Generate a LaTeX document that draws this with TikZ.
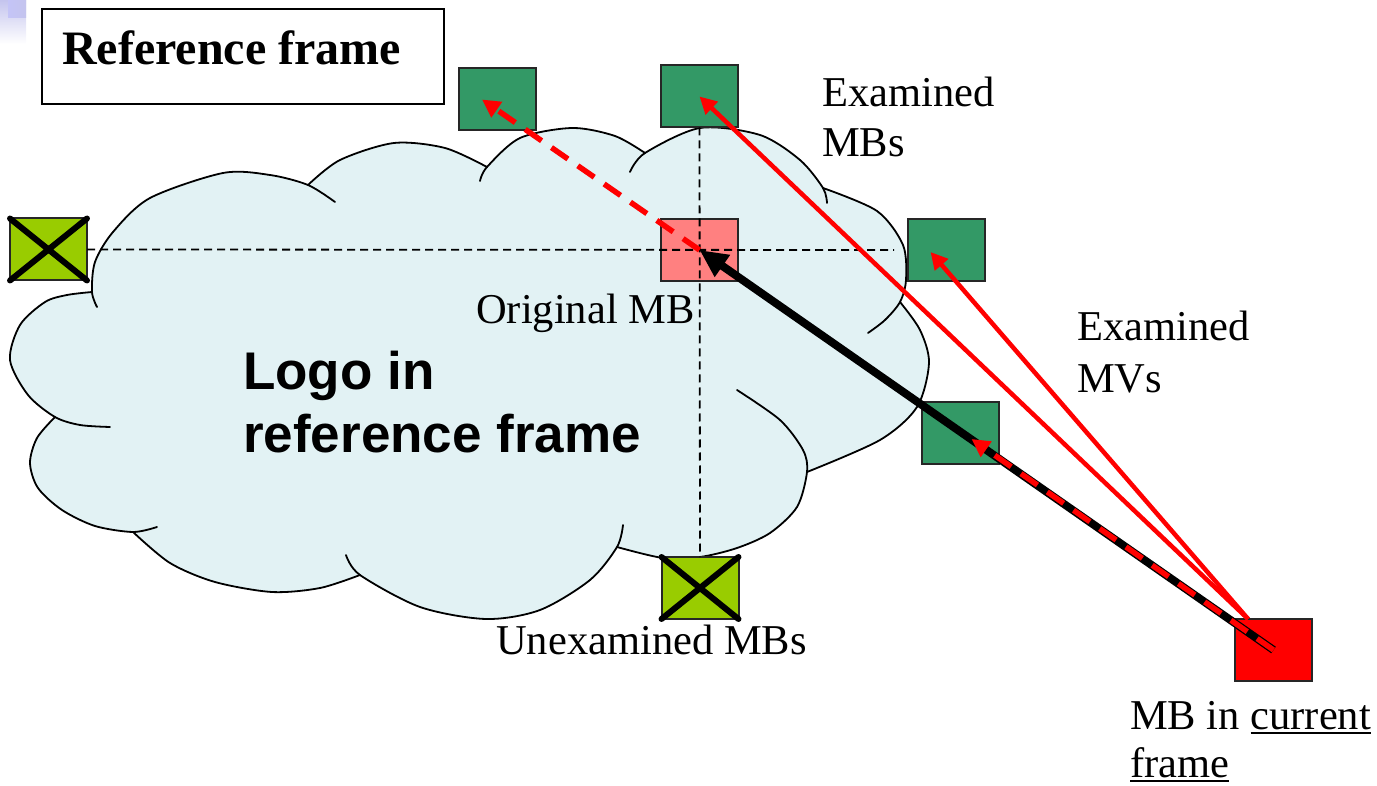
\documentclass[tikz,border=0pt]{standalone}
\usepackage{fontspec}
\setmainfont{Liberation Serif}
\newfontfamily\logofont{Liberation Sans}
\usetikzlibrary{arrows.meta,calc}

\definecolor{cloudfill}{RGB}{226,242,244}
\definecolor{mvgreen}{RGB}{51,153,102}
\definecolor{origpink}{RGB}{255,128,128}
\definecolor{skipgreen}{RGB}{153,204,0}
\definecolor{mvred}{RGB}{255,0,0}
\definecolor{cornerlav}{RGB}{196,196,238}

% underline with a rule placed a little below the baseline
\newcommand\undl[1]{\setbox0=\hbox{#1}\rlap{\rule[-5pt]{\wd0}{1.8pt}}\box0}

\tikzset{
  mbbox/.style={draw=black!85, line width=2pt, minimum width=77pt, minimum height=62pt, inner sep=0pt, outer sep=0pt},
  examined/.style={mbbox, fill=mvgreen},
  original/.style={mbbox, fill=origpink},
  skipped/.style={mbbox, fill=skipgreen},
  current/.style={mbbox, fill=mvred},
  crossline/.style={line width=6pt, line cap=round},
  lbl/.style={anchor=base west, inner sep=0pt, font=\fontsize{42.5}{50}\selectfont},
  logolbl/.style={anchor=base west, inner sep=0pt, font=\logofont\bfseries\fontsize{53}{62}\selectfont},
  guide/.style={line width=1.8pt, dash pattern=on 8pt off 5pt},
  mvline/.style={mvred, line width=4.5pt, -{Triangle[length=17pt,width=17pt]}},
  mvdash/.style={mvred, line width=5.5pt, dash pattern=on 20pt off 12pt, -{Triangle[length=18pt,width=18pt]}},
  bestmv/.style={black, line width=8pt, -{Triangle[length=28pt,width=25pt]}},
  cloudline/.style={line width=1.8pt, line join=round, line cap=round},
}

\begin{document}
\begin{tikzpicture}[x=1pt, y=-1pt]
\useasboundingbox (0,0) rectangle (1377,786);

% corner ornament
\shade[top color=cornerlav, bottom color=white] (0,0) rectangle (26,44);
\shade[left color=cornerlav!80!blue!60!white, right color=cornerlav] (8,0) rectangle (26,18);

% title box
\node[draw, line width=1.8pt, fill=white, minimum width=402pt, minimum height=95pt, anchor=north west, inner sep=0pt] (refbox) at (41,8) {};
\node[anchor=base west, inner sep=0pt, font=\bfseries\fontsize{48}{56}\selectfont] (reftitle) at ($(refbox.north west)+(21,57)$) {Reference frame};

% cloud: fill through the lobes
\fill[cloudfill]
  plot[smooth] coordinates {(92,292) (95,262) (113,232) (150,198) (223,173) (270,175) (308,185)}
  -- plot[smooth] coordinates {(308,185) (340,160) (394,143) (445,148) (487,167)}
  -- plot[smooth] coordinates {(487,167) (520,138) (572,128) (615,136) (645,153)}
  -- plot[smooth] coordinates {(645,153) (700,128) (760,135) (800,160) (823,188)}
  -- plot[smooth] coordinates {(823,188) (877,211) (903,245) (906,280) (900,302)}
  -- plot[smooth] coordinates {(900,302) (920,330) (929,363) (917,407) (880,440) (807,472)}
  -- plot[smooth] coordinates {(807,472) (797,507) (770,533) (737,548) (700,557) (663,558) (617,547)}
  -- plot[smooth] coordinates {(617,547) (590,580) (540,610) (486,619) (420,607) (360,575)}
  -- plot[smooth] coordinates {(360,575) (320,588) (272,592) (215,582) (170,563) (133,532)}
  -- plot[smooth] coordinates {(133,532) (95,526) (62,510) (38,488) (30,463) (37,438) (55,417)}
  -- plot[smooth] coordinates {(55,417) (28,395) (10,360) (20,325) (45,302) (67,295) (92,292)}
  -- cycle;

% cloud: outline of each lobe, with the short inner continuations
\draw[cloudline] plot[smooth] coordinates {(97,307) (92,292) (95,262) (113,232) (150,198) (223,173) (270,175) (308,185) (335,202)};
\draw[cloudline] plot[smooth] coordinates {(308,185) (340,160) (394,143) (445,148) (487,167)};
\draw[cloudline] plot[smooth] coordinates {(480,181) (487,167) (520,138) (572,128) (615,136) (645,153)};
\draw[cloudline] plot[smooth] coordinates {(630,172) (645,153) (700,128) (760,135) (800,160) (823,188) (827,203)};
\draw[cloudline] plot[smooth] coordinates {(823,188) (877,211) (903,245) (906,280) (900,302) (885,320) (868,333)};
\draw[cloudline] plot[smooth] coordinates {(900,302) (920,330) (929,363) (917,407) (880,440) (807,472)};
\draw[cloudline] plot[smooth] coordinates {(737,390) (780,420) (803,450) (807,472) (797,507) (770,533) (737,548) (700,557) (663,558) (617,547)};
\draw[cloudline] plot[smooth] coordinates {(623,525) (617,547) (590,580) (540,610) (486,619) (420,607) (360,575) (346,555)};
\draw[cloudline] plot[smooth] coordinates {(360,575) (320,588) (272,592) (215,582) (170,563) (133,532)};
\draw[cloudline] plot[smooth] coordinates {(157,527) (133,532) (95,526) (62,510) (38,488) (30,463) (37,438) (55,417)};
\draw[cloudline] plot[smooth] coordinates {(110,427) (80,425) (55,417) (28,395) (10,360) (20,325) (45,302) (67,295) (92,292)};

\node[logolbl] (logo1) at (243,390) {Logo in};
\node[logolbl] (logo2) at (243,452) {reference frame};

% macroblocks
\node[examined] (e1) at (497,99.5) {};
\node[examined] (e2) at (699.5,96.5) {};
\node[examined] (e3) at (946.5,250) {};
\node[examined] (e4) at (960.5,433) {};
\node[original] (orig) at (699.5,250) {};
\node[skipped] (xl) at (48.5,249.5) {};
\node[skipped] (xb) at (700,588) {};
\node[current] (cur) at (1273.5,650) {};

\draw[crossline] (xl.north west) -- (xl.south east) (xl.north east) -- (xl.south west);
\draw[crossline] (xb.north west) -- (xb.south east) (xb.north east) -- (xb.south west);

% search grid through the original position
\coordinate (hend) at ($(e3.west)+(-14,0)$);
\draw[guide] (xl.east) -- (hend);
\draw[guide] (e2.south) -- (xb.north);

% motion vectors
\coordinate (cstart) at ($(cur.north west)!0.17!(cur.north east)$);
\coordinate (t1) at ($(e1.center)+(-15,0)$);
\coordinate (t3) at ($(e3.center)+(-16,2)$);
\coordinate (t4) at ($(e4.center)+(11,6)$);

\draw[bestmv] (cur.center) -- (orig.center);
\draw[mvdash] (cur.center) -- (t4);
\draw[mvdash] (orig.center) -- (t1);
\draw[mvline] (cstart) -- (e2.center);
\draw[mvline] (cstart) -- (t3);

% labels
\node[lbl] (exmb1) at (822,107) {Examined};
\node[lbl] (exmb2) at (822,157) {MBs};
\node[lbl] (exmv1) at (1077,341) {Examined};
\node[lbl] (exmv2) at (1077,392) {MVs};
\node[lbl] (origlbl) at (476,324) {Original MB};
\node[lbl] (unexlbl) at (496,654) {Unexamined MBs};
\node[lbl] (curlbl1) at (1130,729) {MB in \undl{current}};
\node[lbl] (curlbl2) at (1130,777) {\undl{frame}};
\end{tikzpicture}
\end{document}
